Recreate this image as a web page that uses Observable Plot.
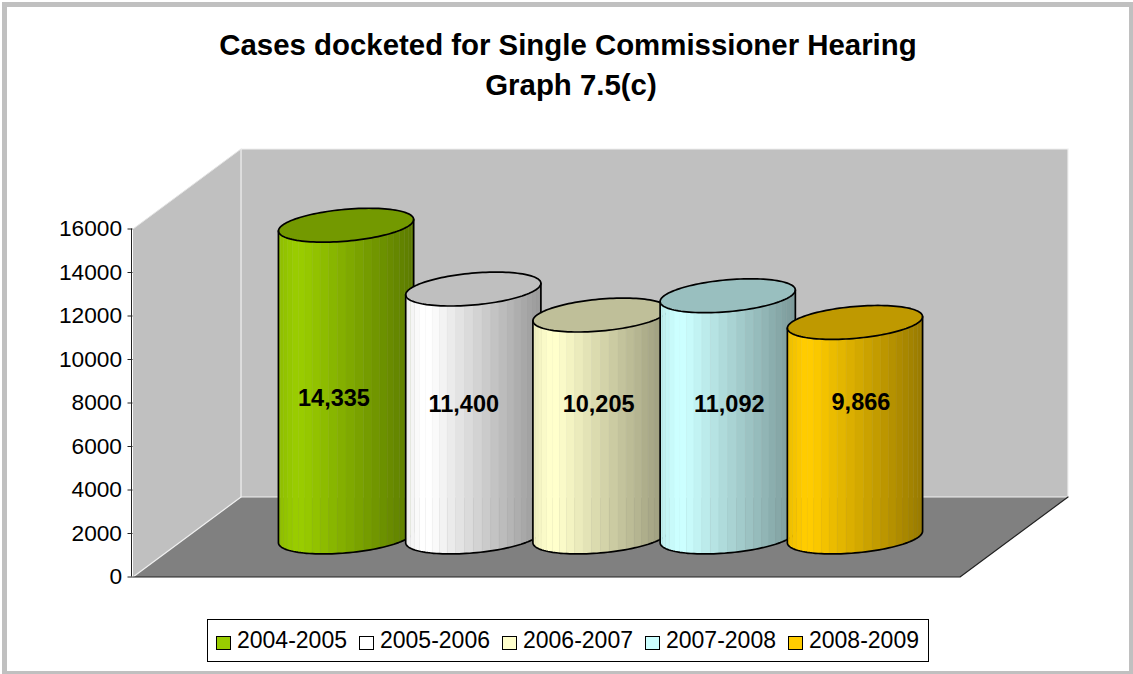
<!DOCTYPE html>
<html>
<head>
<meta charset="utf-8">
<script src="https://cdn.jsdelivr.net/npm/d3@7"></script>
<script src="https://cdn.jsdelivr.net/npm/@observablehq/plot@0.6"></script>
<style>
html,body{margin:0;padding:0;background:#fff;}
#frame{position:absolute;left:0;top:0;width:1133px;height:674px;box-sizing:border-box;overflow:hidden;background:#fff;}
#border{position:absolute;left:2px;top:2px;right:0;bottom:0;border-style:solid;border-color:#c0c0c0;border-width:5px 4px 3px 5px;pointer-events:none;}
#title{position:absolute;left:0;top:25px;width:1136px;text-align:center;font:bold 29.4px/40px "Liberation Sans",Arial,sans-serif;color:#000;}
#title span{position:relative;left:3px;}
#chart{position:absolute;left:0;top:130px;}
#chart svg{display:block;overflow:visible;}
#legend{position:absolute;left:207px;top:619px;width:722px;height:43px;box-sizing:border-box;border:1px solid #000;background:#fff;font:23px "Liberation Sans",Arial,sans-serif;color:#000;}
.swatch{position:absolute;top:16px;width:13px;height:12px;border:1px solid #000;box-sizing:content-box;}
.lab{position:absolute;top:7px;line-height:26px;white-space:nowrap;}
</style>
</head>
<body>
<div id="frame">
  <div id="title">Cases docketed for Single Commissioner Hearing<br><span>Graph 7.5(c)</span></div>
  <div id="chart"></div>
  <div id="legend"></div>
  <div id="border"></div>
</div>
<script>
// ---- data ----
const years = ["2004-2005", "2005-2006", "2006-2007", "2007-2008", "2008-2009"];
const cases = [14335, 11400, 10205, 11092, 9866];
const caseLabels = ["14,335", "11,400", "10,205", "11,092", "9,866"];
const baseColors = ["#99cc00", "#ffffff", "#ffffcc", "#ccffff", "#ffcc00"];
const yTicks = [0, 2000, 4000, 6000, 8000, 10000, 12000, 14000, 16000];

// ---- projection of the 3-D box, in scale units ----
const svgTop = 130;
const xDomain = [-1.25, 5.25];
const depthX = 0.849;    // x units per full depth
const depthY = 3678;     // value units per full depth
const radius = 0.5;      // cylinder radius, x units
const radiusDepth = 0.212; // cylinder radius, depth units
const project = (i, depth, v) => ({x: i + depth * depthX, y: v + depth * depthY});
const [xL, xR] = xDomain, yMax = 16000;

// label placement in scale units, relative to the cylinder centre
const labelNudge = [-0.095, -0.075, -0.015, 0.012, 0.047];
const labelValue = [8210, 7950, 7950, 7950, 8040];

const shade = (hex, b) => {
  const c = d3.rgb(hex);
  return d3.rgb(c.r * b, c.g * b, c.b * b).formatHex();
};
const brightness = f => f < 0.12 ? 0.93 + 0.07 * f / 0.12 : f < 0.18 ? 1 : 1 - 0.4 * (f - 0.18) / 0.82;

// ring outline: a circle on the floor plane, sheared by the depth projection
const S = radiusDepth * depthX, H = radiusDepth * depthY;
const R = Math.hypot(radius, S), phi = Math.atan2(S, radius);
const ringPoint = (cx, cv, a) => ({x: cx + radius * Math.cos(a) + S * Math.sin(a), y: cv + H * Math.sin(a)});
// th 0..PI walks the lower side from the left extreme to the right extreme
const frontPoint = (cx, cv, th) => ringPoint(cx, cv, th + phi + Math.PI);

const polygon = (pts, opts) => Plot.line(pts, {x: "x", y: "y", ...opts});

const marks = [];
// walls and floor
marks.push(polygon([project(xL,0,0), project(xL,1,0), project(xL,1,yMax), project(xL,0,yMax), project(xL,0,0)], {fill: "#c0c0c0", stroke: "none"}));
marks.push(polygon([project(xL,1,0), project(xR,1,0), project(xR,1,yMax), project(xL,1,yMax), project(xL,1,0)], {fill: "#c0c0c0", stroke: "none"}));
marks.push(polygon([project(xL,0,0), project(xR,0,0), project(xR,1,0), project(xL,1,0), project(xL,0,0)], {fill: "#808080", stroke: "none"}));
marks.push(polygon([project(xL,0,0), project(xL,1,0), project(xR,1,0), project(xR,1,yMax)], {stroke: "#f0f0f0", strokeWidth: 1.2}));
marks.push(polygon([project(xL,1,0), project(xL,1,yMax), project(xR,1,yMax)], {stroke: "#f0f0f0", strokeWidth: 1.2}));
marks.push(polygon([project(xL,0,yMax), project(xL,1,yMax)], {stroke: "#e4e4e4", strokeWidth: 1}));
marks.push(polygon([project(xL,0,0), project(xR,0,0), project(xR,1,0)], {stroke: "#222", strokeWidth: 1.2}));

// cylinders
const nStrips = 24;
years.forEach((yr, i) => {
  const c = project(i, 0.5, 0);
  const topV = cases[i] + c.y, botV = c.y;
  const strips = [];
  for (let j = 0; j < nStrips; ++j) {
    const a = Math.PI * j / nStrips, b = Math.PI * (j + 1) / nStrips, m = (a + b) / 2;
    const col = shade(baseColors[i], brightness((1 - Math.cos(m)) / 2));
    const row = (th, v) => ({...frontPoint(c.x, v, th), z: j, col});
    strips.push(row(a, topV), row(m, topV), row(b, topV), row(b, botV), row(m, botV), row(a, botV), row(a, topV));
  }
  marks.push(Plot.line(strips, {x: "x", y: "y", z: "z", fill: "col", stroke: "col", strokeWidth: 0.4}));
  const ring = d3.range(0, 121).map(k => ringPoint(c.x, topV, k / 120 * 2 * Math.PI));
  marks.push(polygon(ring, {fill: shade(baseColors[i], 0.75), stroke: "#000", strokeWidth: 1.7}));
  const side = [ frontPoint(c.x, topV, 0),
    ...d3.range(0, 61).map(k => frontPoint(c.x, botV, k / 60 * Math.PI)),
    frontPoint(c.x, topV, Math.PI) ];
  marks.push(polygon(side, {stroke: "#000", strokeWidth: 1.7}));
});

// value labels
const labels = years.map((y, i) => ({x: project(i, 0.5, 0).x + labelNudge[i], y: labelValue[i], t: caseLabels[i]}));
marks.push(Plot.text(labels, {x: "x", y: "y", text: "t", fontSize: 23.5, fontWeight: "bold", fill: "#000", fontFamily: "Liberation Sans"}));

// axis
marks.push(Plot.ruleX([xL], {y1: 0, y2: yMax, dx: -1.5, stroke: "#222"}));
marks.push(Plot.axisY({ticks: yTicks, tickFormat: d => String(d), tickSize: 5, tickPadding: 6, anchor: "left", label: null, fontSize: 22.7, fontFamily: "Liberation Sans", fill: "#000", stroke: "#222", x: xL}));

const yPx = v => 576.5 - svgTop - v * 0.02175;
const chart = Plot.plot({
  width: 1133,
  height: 470,
  marginLeft: 131, marginRight: 0, marginTop: 0, marginBottom: 0,
  style: {background: "transparent", fontFamily: "Liberation Sans"},
  x: {domain: xDomain, range: [132.5, 959.5], axis: null},
  y: {domain: [0, yMax], range: [yPx(0), yPx(yMax)], axis: null},
  marks
});
document.getElementById("chart").appendChild(chart);

// legend
const legend = document.getElementById("legend");
years.forEach((y, i) => {
  const left = 8 + i * 143;
  const s = document.createElement("div");
  s.className = "swatch"; s.style.left = left + "px"; s.style.background = baseColors[i];
  const t = document.createElement("div");
  t.className = "lab"; t.style.left = (left + 21) + "px"; t.textContent = y;
  legend.append(s, t);
});
</script>
</body>
</html>
